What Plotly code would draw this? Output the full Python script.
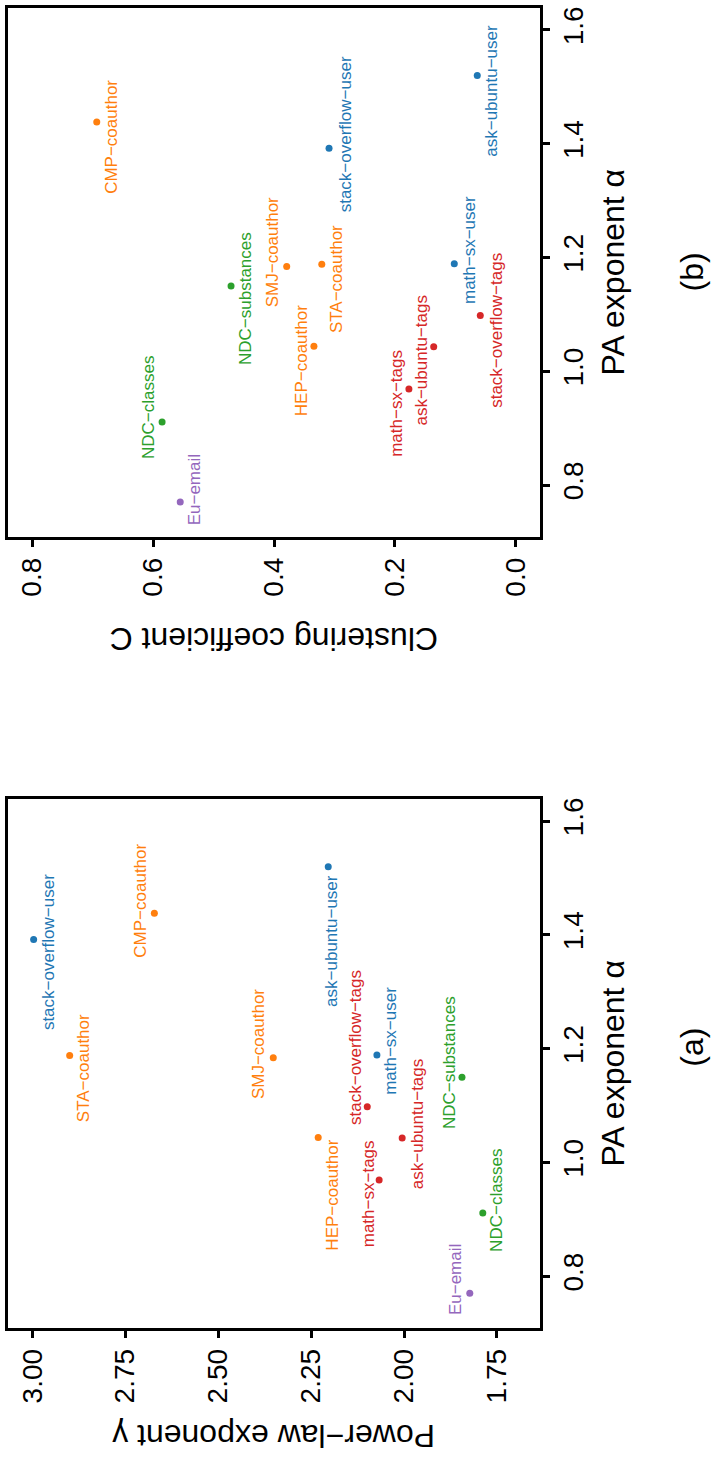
import plotly.graph_objects as go

# ---------------- data ----------------
names = ["stack−overflow−user", "CMP−coauthor", "ask−ubuntu−user", "STA−coauthor",
         "SMJ−coauthor", "HEP−coauthor", "math−sx−user", "NDC−substances",
         "stack−overflow−tags", "ask−ubuntu−tags", "math−sx−tags", "NDC−classes", "Eu−email"]
groups = ["user", "coauthor", "user", "coauthor",
          "coauthor", "coauthor", "user", "ndc",
          "tags", "tags", "tags", "ndc", "email"]
pa_alpha = [1.392, 1.438, 1.520, 1.188, 1.184, 1.044, 1.189, 1.150, 1.098, 1.043, 0.969, 0.911, 0.770]
gamma = [2.997, 2.672, 2.204, 2.900, 2.352, 2.231, 2.073, 1.844, 2.099, 2.005, 2.067, 1.788, 1.823]
clustering = [0.309, 0.693, 0.064, 0.321, 0.379, 0.334, 0.102, 0.471, 0.059, 0.136, 0.177, 0.585, 0.555]

gamma_ticks = [1.75, 2.00, 2.25, 2.50, 2.75, 3.00]
gamma_ticktext = ["1.75", "2.00", "2.25", "2.50", "2.75", "3.00"]
alpha_ticks = [0.8, 1.0, 1.2, 1.4, 1.6]
alpha_ticktext = ["0.8", "1.0", "1.2", "1.4", "1.6"]
c_ticks = [0.0, 0.2, 0.4, 0.6, 0.8]
c_ticktext = ["0.0", "0.2", "0.4", "0.6", "0.8"]

# ---------------- style ----------------
group_colors = {"user": "#1f77b4", "coauthor": "#ff7f0e", "ndc": "#2ca02c",
                "tags": "#d62728", "email": "#9467bd"}
colors = [group_colors[g] for g in groups]
FONT = "Liberation Sans, Arial, Helvetica, sans-serif"

# label offsets (pixels, screen dx right, dy down) per panel
offs_a = [(15, 13), (-14, -13), (3, 74), (14, 13), (-14, -14), (14, 58), (14, -14),
          (-13, -15), (-12, -59), (15, -14), (-11, 14), (13, -13), (-14, -14)]
offs_b = [(16, -14), (14, 15), (14, 15), (15, 15), (-14, -14), (-13, 14), (15, -14),
          (15, 13), (16, 15), (-12, 14), (-12, 14), (-13, -14), (14, -12)]

W, H = 713, 1468
ML, MR, MT, MB = 8, 173, 5, 140
PW = W - ML - MR
PH = H - MT - MB
B_TOP, B_BOT = 5, 535
A_TOP, A_BOT = 798, 1328


def px(x):
    return (x - ML) / PW


def py(y):
    return (H - MB - y) / PH


fig = go.Figure()

fig.add_trace(go.Scatter(x=clustering, y=pa_alpha, mode="markers", xaxis="x", yaxis="y",
                         marker=dict(size=7, color=colors), hoverinfo="skip"))
fig.add_trace(go.Scatter(x=gamma, y=pa_alpha, mode="markers", xaxis="x2", yaxis="y2",
                         marker=dict(size=7, color=colors), hoverinfo="skip"))

annotations = []
for i, n in enumerate(names):
    dx, dy = offs_b[i]
    annotations.append(dict(x=clustering[i], y=pa_alpha[i], xref="x", yref="y", text=n,
                            showarrow=False, textangle=-90, xshift=dx, yshift=-dy,
                            xanchor="center", yanchor="middle",
                            font=dict(family=FONT, size=17, color=colors[i])))
    dx, dy = offs_a[i]
    annotations.append(dict(x=gamma[i], y=pa_alpha[i], xref="x2", yref="y2", text=n,
                            showarrow=False, textangle=-90, xshift=dx, yshift=-dy,
                            xanchor="center", yanchor="middle",
                            font=dict(family=FONT, size=17, color=colors[i])))

title_font = dict(family=FONT, size=32, color="black")
annotations += [
    dict(x=px(274), y=py(638), xref="paper", yref="paper", text="Clustering coefficient C",
         textangle=180, showarrow=False, xanchor="center", yanchor="middle", font=title_font),
    dict(x=px(274), y=py(1436), xref="paper", yref="paper", text="Power−law exponent γ",
         textangle=180, showarrow=False, xanchor="center", yanchor="middle", font=title_font),
    dict(x=px(613), y=py((B_TOP + B_BOT) / 2), xref="paper", yref="paper", text="PA exponent α",
         textangle=-90, showarrow=False, xanchor="center", yanchor="middle", font=title_font),
    dict(x=px(613), y=py((A_TOP + A_BOT) / 2), xref="paper", yref="paper", text="PA exponent α",
         textangle=-90, showarrow=False, xanchor="center", yanchor="middle", font=title_font),
    dict(x=px(692), y=py((B_TOP + B_BOT) / 2), xref="paper", yref="paper", text="(b)",
         textangle=-90, showarrow=False, xanchor="center", yanchor="middle", font=title_font),
    dict(x=px(692), y=py(1047), xref="paper", yref="paper", text="(a)",
         textangle=-90, showarrow=False, xanchor="center", yanchor="middle", font=title_font),
]

axis_common = dict(showline=True, mirror=True, linecolor="black", linewidth=2.5,
                   ticks="outside", ticklen=7, tickwidth=2.5, tickcolor="black",
                   showgrid=False, zeroline=False, tickangle=-90,
                   tickfont=dict(family=FONT, size=28, color="black"))

alpha_range = [0.709, 1.6386]

fig.update_layout(
    width=W, height=H,
    margin=dict(l=ML, r=MR, t=MT, b=MB),
    paper_bgcolor="white", plot_bgcolor="white",
    showlegend=False,
    xaxis=dict(axis_common, range=[0.8397, -0.0397], tickvals=c_ticks, ticktext=c_ticktext,
               anchor="y", domain=[0, 1]),
    yaxis=dict(axis_common, range=alpha_range, tickvals=alpha_ticks, ticktext=alpha_ticktext,
               side="right", anchor="x", domain=[py(B_BOT), py(B_TOP)]),
    xaxis2=dict(axis_common, range=[3.066, 1.634], tickvals=gamma_ticks, ticktext=gamma_ticktext,
                anchor="y2", domain=[0, 1]),
    yaxis2=dict(axis_common, range=alpha_range, tickvals=alpha_ticks, ticktext=alpha_ticktext,
                side="right", anchor="x2", domain=[py(A_BOT), py(A_TOP)]),
    annotations=annotations,
)

fig.write_html("out.html")
